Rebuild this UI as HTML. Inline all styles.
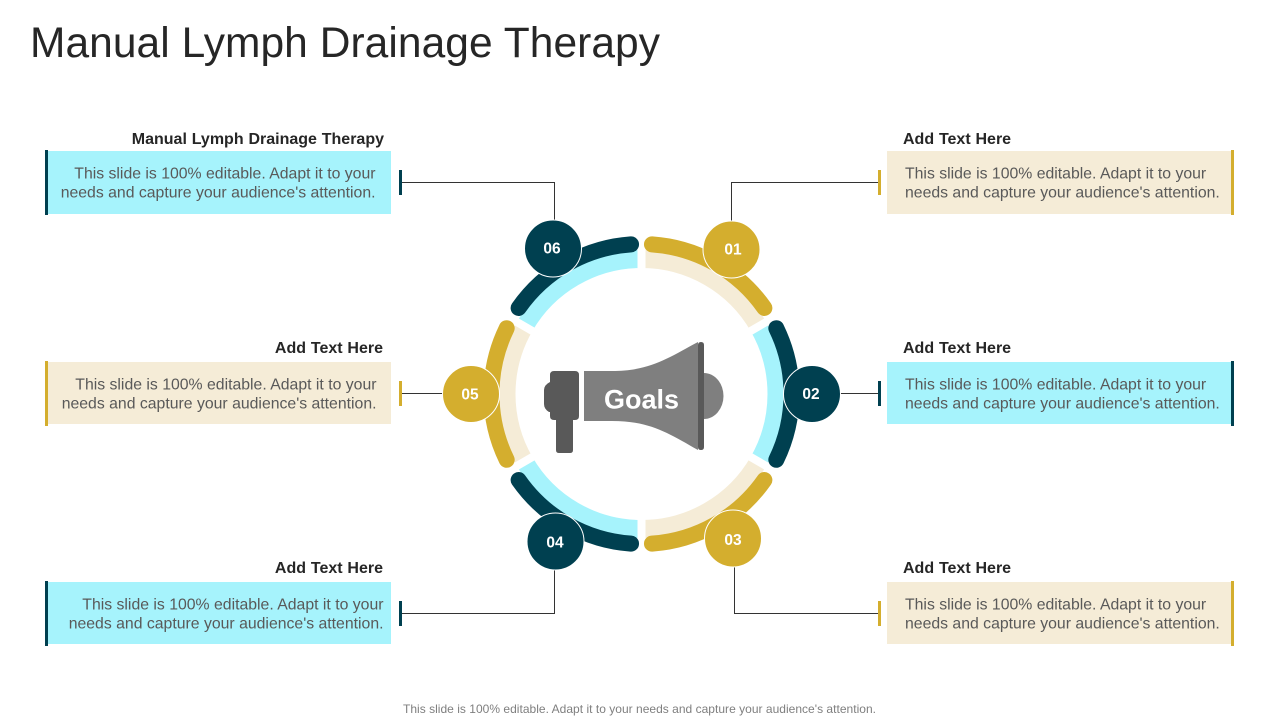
<!DOCTYPE html>
<html lang="en"><head><meta charset="utf-8"><title>Manual Lymph Drainage Therapy</title>
<style>
html,body{margin:0;padding:0;background:#fff;width:1280px;height:720px;overflow:hidden}
svg{display:block}
text{font-family:"Liberation Sans",sans-serif}
.h{font-size:16px;font-weight:bold;fill:#262626;word-spacing:.4px}
.b{font-size:15.8px;fill:#595959}
.n{font-size:15.5px;font-weight:bold;fill:#fff;text-anchor:middle}
.e{text-anchor:end}
.c{fill:none;stroke:#333;stroke-width:1}
.l{fill:none;stroke-width:18}
.d{fill:none;stroke-width:16;stroke-linecap:round}
</style></head><body>
<svg width="1280" height="720" viewBox="0 0 1280 720" xmlns="http://www.w3.org/2000/svg">
<text x="30" y="57" font-size="42.5" fill="#262626" textLength="630">Manual Lymph Drainage Therapy</text>

<!-- boxes -->
<rect x="45" y="151" width="346" height="63" fill="#A6F3FC"/><rect x="45" y="150" width="3" height="65" fill="#004050"/>
<rect x="45" y="362" width="346" height="62" fill="#F5ECD7"/><rect x="45" y="361" width="3" height="65" fill="#D4AE2E"/>
<rect x="45" y="582" width="346" height="62" fill="#A6F3FC"/><rect x="45" y="581" width="3" height="65" fill="#004050"/>
<rect x="887" y="151" width="346" height="63" fill="#F5ECD7"/><rect x="1231" y="150" width="3" height="65" fill="#D4AE2E"/>
<rect x="887" y="362" width="346" height="62" fill="#A6F3FC"/><rect x="1231" y="361" width="3" height="65" fill="#004050"/>
<rect x="887" y="582" width="346" height="62" fill="#F5ECD7"/><rect x="1231" y="581" width="3" height="65" fill="#D4AE2E"/>

<!-- connectors -->
<path class="c" d="M400 182.500H554.500V222"/>
<path class="c" d="M880 182.500H731.500V222"/>
<path class="c" d="M400 393.500H445"/>
<path class="c" d="M880 393.500H838"/>
<path class="c" d="M400 613.500H554.500V568"/>
<path class="c" d="M880 613.500H734.500V566"/>
<rect x="399" y="170" width="3" height="25" fill="#004050"/>
<rect x="399" y="381" width="3" height="25" fill="#D4AE2E"/>
<rect x="399" y="601" width="3" height="25" fill="#004050"/>
<rect x="878" y="170" width="3" height="25" fill="#D4AE2E"/>
<rect x="878" y="381" width="3" height="25" fill="#004050"/>
<rect x="878" y="601" width="3" height="25" fill="#D4AE2E"/>

<!-- light ring -->
<path class="l" stroke="#F5ECD7" d="M641.500 259A135 135 0 0 1 758.410 326.500"/>
<path class="l" stroke="#A6F3FC" d="M758.410 326.500A135 135 0 0 1 758.410 461.500"/>
<path class="l" stroke="#F5ECD7" d="M758.410 461.500A135 135 0 0 1 641.500 529"/>
<path class="l" stroke="#A6F3FC" d="M641.500 529A135 135 0 0 1 524.590 461.500"/>
<path class="l" stroke="#F5ECD7" d="M524.590 461.500A135 135 0 0 1 524.590 326.500"/>
<path class="l" stroke="#A6F3FC" d="M524.590 326.500A135 135 0 0 1 641.500 259"/>
<!-- gaps -->
<g stroke="#fff" stroke-width="8" fill="none">
<path d="M641.500 245V543"/>
<path d="M512.500 319.500L770.500 468.500"/>
<path d="M512.500 468.500L770.500 319.500"/>
</g>
<!-- dark arcs -->
<path class="d" stroke="#D4AE2E" d="M651.970 244.360A150 150 0 0 1 764.380 307.960"/>
<path class="d" stroke="#004050" d="M776.320 328.240A150 150 0 0 1 776.320 459.760"/>
<path class="d" stroke="#D4AE2E" d="M764.380 480.040A150 150 0 0 1 651.970 543.640"/>
<path class="d" stroke="#004050" d="M631.030 543.640A150 150 0 0 1 518.620 480.040"/>
<path class="d" stroke="#D4AE2E" d="M506.680 459.760A150 150 0 0 1 506.680 328.240"/>
<path class="d" stroke="#004050" d="M518.620 307.960A150 150 0 0 1 631.030 244.360"/>

<!-- number circles -->
<circle cx="553" cy="248.500" r="28.500" fill="#004050" stroke="#fff"/>
<circle cx="731.500" cy="249.500" r="28.500" fill="#D4AE2E" stroke="#fff"/>
<circle cx="812" cy="394" r="28.500" fill="#004050" stroke="#fff"/>
<circle cx="733" cy="538.500" r="28.500" fill="#D4AE2E" stroke="#fff"/>
<circle cx="555.500" cy="541.500" r="28.500" fill="#004050" stroke="#fff"/>
<circle cx="471" cy="394" r="28.500" fill="#D4AE2E" stroke="#fff"/>
<text class="n" x="552" y="253.500">06</text>
<text class="n" x="733" y="254.500">01</text>
<text class="n" x="811" y="399">02</text>
<text class="n" x="733" y="545">03</text>
<text class="n" x="555" y="547.500">04</text>
<text class="n" x="470" y="399.500">05</text>

<!-- megaphone -->
<path d="M704 373A19.500 23 0 0 1 704 419Z" fill="#7F7F7F"/>
<path d="M584 371H612C650 371 668 358 698 342V450C668 433 650 421 612 421H584Z" fill="#7F7F7F"/>
<path d="M698 345Q698 342 701 342Q704 342 704 345V447Q704 450 701 450Q698 450 698 447Z" fill="#595959"/>
<path d="M554 371H575Q579 371 579 375V416Q579 420 575 420H573V450Q573 453 570 453H559Q556 453 556 450V420H554Q550 420 550 416V412H549Q544 409 544 404V390Q544 385 550 382V375Q550 371 554 371Z" fill="#595959"/>
<text x="604" y="408.300" font-size="26.500" font-weight="bold" fill="#fff" textLength="75" lengthAdjust="spacingAndGlyphs">Goals</text>

<!-- left labels -->
<text class="h e" x="384" y="144">Manual Lymph Drainage Therapy</text>
<text class="b e" x="375.500" y="178.500">This slide is 100% editable. Adapt it to your</text>
<text class="b e" x="375.500" y="197.500">needs and capture your audience's attention.</text>
<text class="h e" x="383" y="353">Add Text Here</text>
<text class="b e" x="376.500" y="389.500">This slide is 100% editable. Adapt it to your</text>
<text class="b e" x="376.500" y="408.500">needs and capture your audience's attention.</text>
<text class="h e" x="383" y="573">Add Text Here</text>
<text class="b e" x="383.500" y="609.500">This slide is 100% editable. Adapt it to your</text>
<text class="b e" x="383.500" y="628.500">needs and capture your audience's attention.</text>

<!-- right labels -->
<text class="h" x="903" y="144">Add Text Here</text>
<text class="b" x="905" y="178.500">This slide is 100% editable. Adapt it to your</text>
<text class="b" x="905" y="197.500">needs and capture your audience's attention.</text>
<text class="h" x="903" y="353">Add Text Here</text>
<text class="b" x="905" y="389.500">This slide is 100% editable. Adapt it to your</text>
<text class="b" x="905" y="408.500">needs and capture your audience's attention.</text>
<text class="h" x="903" y="573">Add Text Here</text>
<text class="b" x="905" y="609.500">This slide is 100% editable. Adapt it to your</text>
<text class="b" x="905" y="628.500">needs and capture your audience's attention.</text>

<text x="403" y="713" font-size="12" fill="#7F7F7F" textLength="473">This slide is 100% editable. Adapt it to your needs and capture your audience's attention.</text>
</svg>
</body></html>
